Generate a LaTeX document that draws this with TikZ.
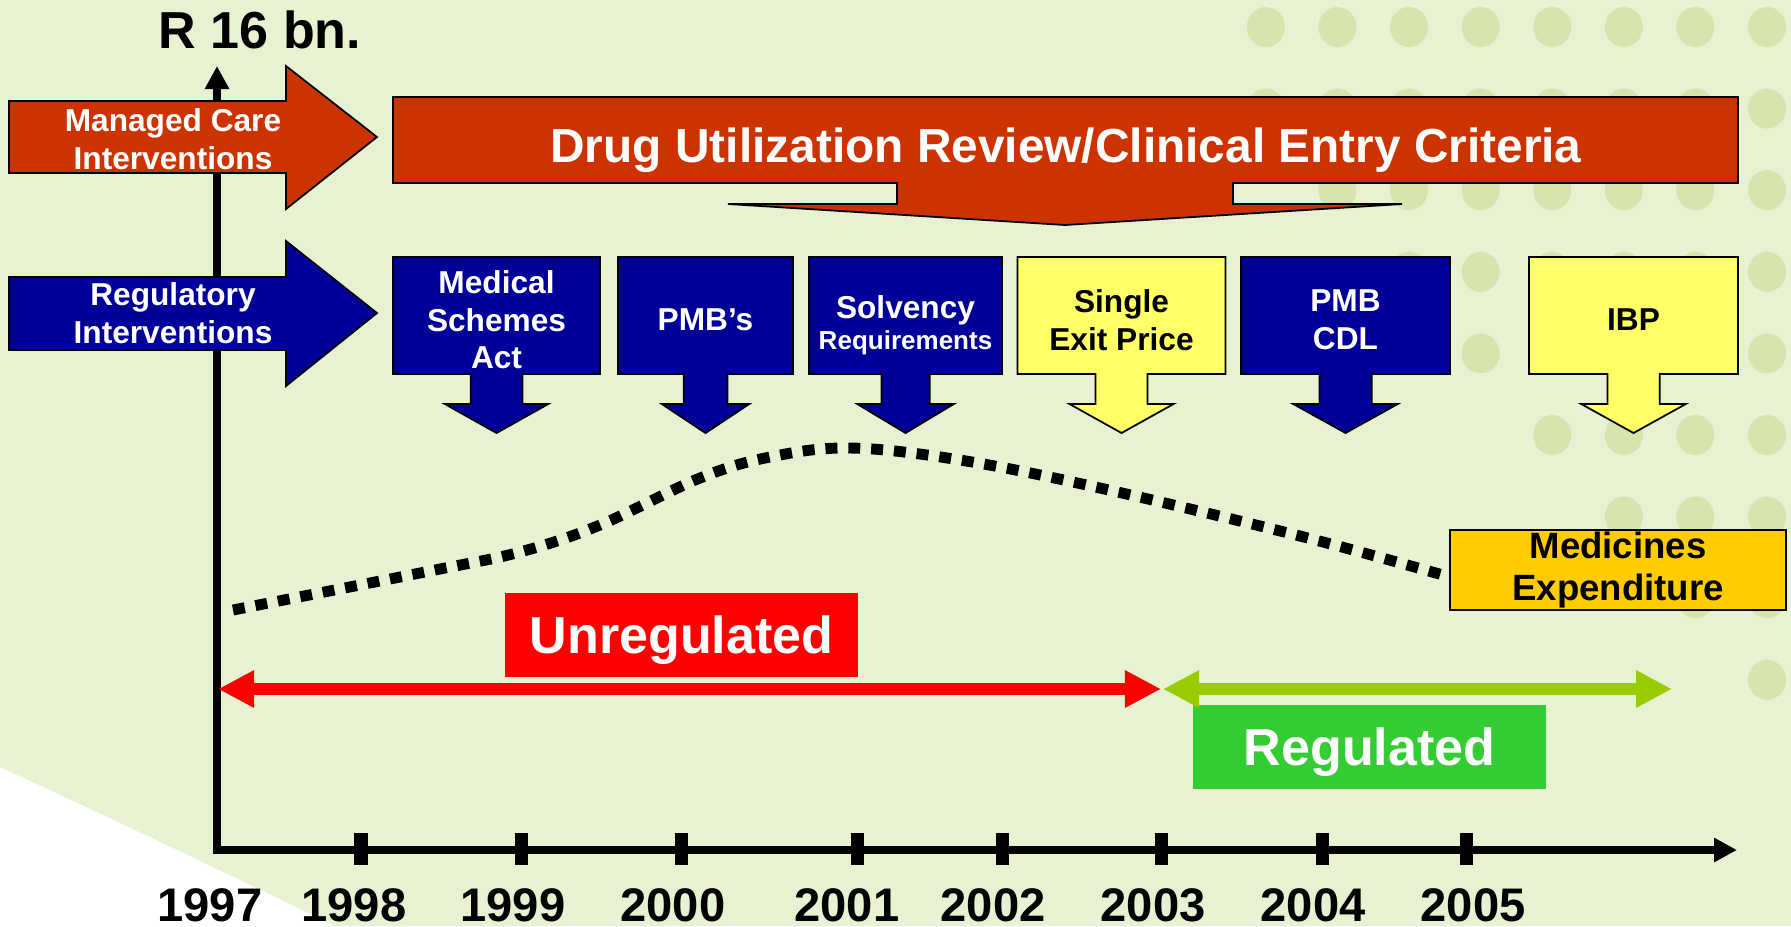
\documentclass[tikz,border=0pt]{standalone}
\usepackage{fontspec}
\setmainfont{Liberation Sans}
\usetikzlibrary{arrows.meta}
\tikzset{>=latex}
\definecolor{slidebg}{HTML}{E6F2D2}
\definecolor{dotgreen}{HTML}{D6E5AE}
\definecolor{rust}{HTML}{CC3300}
\definecolor{navy}{HTML}{000099}
\definecolor{paleyellow}{HTML}{FFFF66}
\definecolor{amber}{HTML}{FFCC00}
\definecolor{limegreen}{HTML}{99CC00}
\definecolor{tagred}{HTML}{FF0000}
\definecolor{taggreen}{HTML}{33CC33}
\tikzstyle{outline}=[draw=black,line width=0.5pt,line join=miter]
\tikzstyle{axis}=[line width=2.2pt]
\tikzstyle{tick}=[line width=3.7pt]
\tikzstyle{spendline}=[line width=3.1pt,dash pattern=on 3.4pt off 3.1pt]
\tikzstyle{span}=[line width=3.4pt]
\tikzstyle{arrowtext}=[text=white,align=center,inner sep=0pt,font=\bfseries\fontsize{9}{10.8}\selectfont]
\tikzstyle{boxtext}=[align=center,inner sep=0pt,font=\bfseries\fontsize{9}{10.7}\selectfont]
\tikzstyle{tag}=[text=white,inner sep=0pt,text depth=0pt,minimum width=3.53cm,minimum height=0.84cm,font=\bfseries\fontsize{14.8}{17.8}\selectfont]
\tikzstyle{medbox}=[draw=black,line width=0.5pt,fill=amber,align=center,inner sep=0pt,minimum width=3.36cm,minimum height=0.8cm,font=\bfseries\fontsize{10.4}{12.2}\selectfont]
\tikzstyle{yeartext}=[inner sep=0pt,font=\bfseries\fontsize{13.4}{16}\selectfont]

\begin{document}
\begin{tikzpicture}[x=0.01cm,y=-0.01cm,%
					pics/callout/.style n args={4}{code={
						\draw[outline,fill=#2] (-#1/2,0) -- (#1/2,0) -- (#1/2,117) -- (#1/8,117) -- (#1/8,147) -- (#1/4,147) -- (0,176) -- (-#1/4,147) -- (-#1/8,147) -- (-#1/8,117) -- (-#1/2,117) -- cycle;
						\node[boxtext,#3] (-label) at (0,63) {#4};
					}}
				]
\useasboundingbox (0,0) rectangle (1791,926);
\fill[slidebg] (0,0) rectangle (1791,926);
\fill[white] (0,767) .. controls (110,818) and (220,870) .. (335,926) -- (0,926) -- cycle;
% dot pattern, top right
\foreach \row/\n in {0/8,1/8,2/7,3/6,4/5,5/4,6/3,7/2,8/1}
	\foreach \k in {1,...,\n}
		\fill[dotgreen] ({1767-71.6*(\k-1)},{27+81.6*\row}) ellipse [x radius=0.19cm,y radius=0.2cm];

% axes
\coordinate (ytop) at (217,66);
\coordinate (origin) at (217,850);
\coordinate (xend) at (1737,850);
\draw[axis,{Triangle[length=0.23cm,width=0.23cm]}-{Triangle[length=0.23cm,width=0.23cm]}] (ytop) -- (origin) -- (xend);
\foreach \xt in {361,521,681,857,1002,1161,1322,1466}
	\draw[tick] (\xt,833) -- (\xt,865);
\foreach \xl/\yr in {210/1997,354/1998,513/1999,673/2000,847/2001,993/2002,1153/2003,1313/2004,1473/2005}
	\node[yeartext,anchor=base] (yr\yr) at (\xl,921) {\yr};
\node[inner sep=0pt,anchor=base,font=\bfseries\fontsize{14.8}{17.8}\selectfont] (rtitle) at (260,48) {R 16 bn.};

% intervention arrows
\draw[outline,fill=rust] (9,101) -- (286,101) -- (286,66) -- (377,137) -- (286,209) -- (286,173) -- (9,173) -- cycle;
\node[arrowtext] (mctext) at (173,139) {Managed Care\\Interventions};
\draw[outline,fill=navy] (9,277) -- (286,277) -- (286,241) -- (377,313) -- (286,386) -- (286,350) -- (9,350) -- cycle;
\node[arrowtext] (rgtext) at (173,313) {Regulatory\\Interventions};

% drug utilization callout
\draw[outline,fill=rust] (393,97) -- (1738,97) -- (1738,183) -- (1233,183) -- (1233,204) -- (1402,204) -- (1065,225) -- (728,204) -- (897,204) -- (897,183) -- (393,183) -- cycle;
\node[inner sep=0pt,anchor=base,text=white,font=\bfseries\fontsize{13.6}{16}\selectfont] (durtext) at (1066,162) {Drug Utilization Review/Clinical Entry Criteria};

% regulation boxes
\pic (msa) at (496.5,257) {callout={207}{navy}{text=white}{Medical\\Schemes\\Act}};
\pic (pmbs) at (705.5,257) {callout={175}{navy}{text=white}{PMB’s}};
\pic (solv) at (905.5,257) {callout={193}{navy}{text=white,yshift=-1.5pt}{Solvency\\[-2pt]{\fontsize{7.4}{9}\selectfont Requirements}}};
\pic (sep) at (1121.5,257) {callout={208}{paleyellow}{text=black}{Single\\Exit Price}};
\pic (cdl) at (1345.5,257) {callout={209}{navy}{text=white}{PMB\\CDL}};
\pic (ibp) at (1633.5,257) {callout={209}{paleyellow}{text=black}{IBP}};

% expenditure curve
\node[medbox] (medexp) at (1618,570) {Medicines\\Expenditure};
\draw[spendline] plot[smooth,tension=0.6] coordinates {(233,610) (430,571) (520,552) (600,525) (700,478) (770,457) (850,448) (960,460) (1100,488) (1300,536) (1450,577)};

% periods
\node[tag,fill=tagred] (unreg) at (681.5,635) {Unregulated};
\node[tag,fill=taggreen] (reg) at (1369.5,746.5) {Regulated};
\coordinate (ustart) at (218,689);
\coordinate (uend) at (1161,689);
\coordinate (rstart) at (1163,689);
\coordinate (rend) at (1672,689);
\draw[span,draw=tagred,fill=tagred,{Triangle[length=0.36cm,width=0.35cm]}-{Triangle[length=0.36cm,width=0.35cm]}] (ustart) -- (uend);
\draw[span,draw=limegreen,fill=limegreen,{Triangle[length=0.36cm,width=0.35cm]}-{Triangle[length=0.36cm,width=0.35cm]}] (rstart) -- (rend);
\end{tikzpicture}
\end{document}
